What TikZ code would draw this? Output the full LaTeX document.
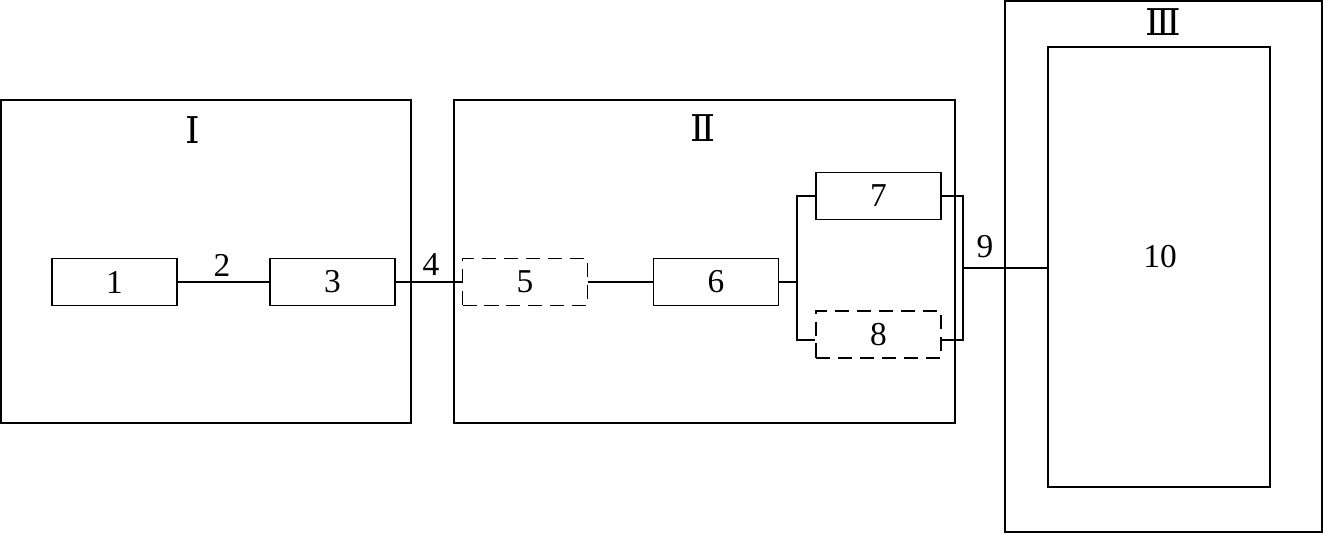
\documentclass[tikz,border=0pt]{standalone}
\usepackage{fontspec}
\setmainfont{Liberation Serif}
\newfontfamily\romfont{DejaVu Serif}
\usetikzlibrary{calc}
\tikzstyle{blk} = [draw,minimum width=2.5cm,minimum height=0.94cm,inner sep=0pt]
\tikzstyle{dblk} = [blk,dash pattern=on 8pt off 4.5pt]
\tikzstyle{roman} = [font=\romfont\fontsize{21}{24}\selectfont]

\begin{document}
\begin{tikzpicture}[line width=0.9pt,font=\fontsize{19}{22}\selectfont]
\useasboundingbox (0,0) rectangle (26.46,10.68);

% frames
\draw(0.02,2.22) rectangle (8.22,8.68);
\draw(9.08,2.22) rectangle (19.1,8.68);
\draw(20.1,0.04) rectangle (26.44,10.66);
\draw(3.86,8.08) node (romI) [roman] {Ⅰ};
\draw(14.06,8.12) node (romII) [roman] {Ⅱ};
\draw(23.26,10.24) node (romIII) [roman] {Ⅲ};

% blocks
\draw(2.29,5.04) node (b1) [blk] {1};
\draw(6.65,5.04) node (b3) [blk] {3};
\draw(10.5,5.04) node (b5) [dblk] {5};
\draw(14.32,5.04) node (b6) [blk] {6};
\draw(17.57,6.76) node (b7) [blk] {7};
\draw(17.57,3.99) node (b8) [dblk] {8};
\draw(23.18,5.34) node (ten) [draw,minimum width=4.44cm,minimum height=8.8cm] {};
\draw(23.2,5.54) node (l10) {10};

% links
\draw (b1) -- (b3);
\draw(4.44,5.38) node (l2) {2};
\draw (b3) -- (b5);
\draw(8.62,5.38) node (l4) {4};
\draw (b5) -- (b6);

\coordinate (jl) at (15.94,5.04);
\coordinate (jr) at (19.26,5.32);
\draw (b6.east) -- (jl);
\draw (b7.west) -| (jl) |- ([yshift=-0.11cm]b8.west);
\draw (b7.east) -| (jr) |- ([yshift=-0.11cm]b8.east);
\draw (jr) -- (jr -| ten.west);
\draw(19.7,5.74) node (l9) {9};

\end{tikzpicture}
\end{document}
